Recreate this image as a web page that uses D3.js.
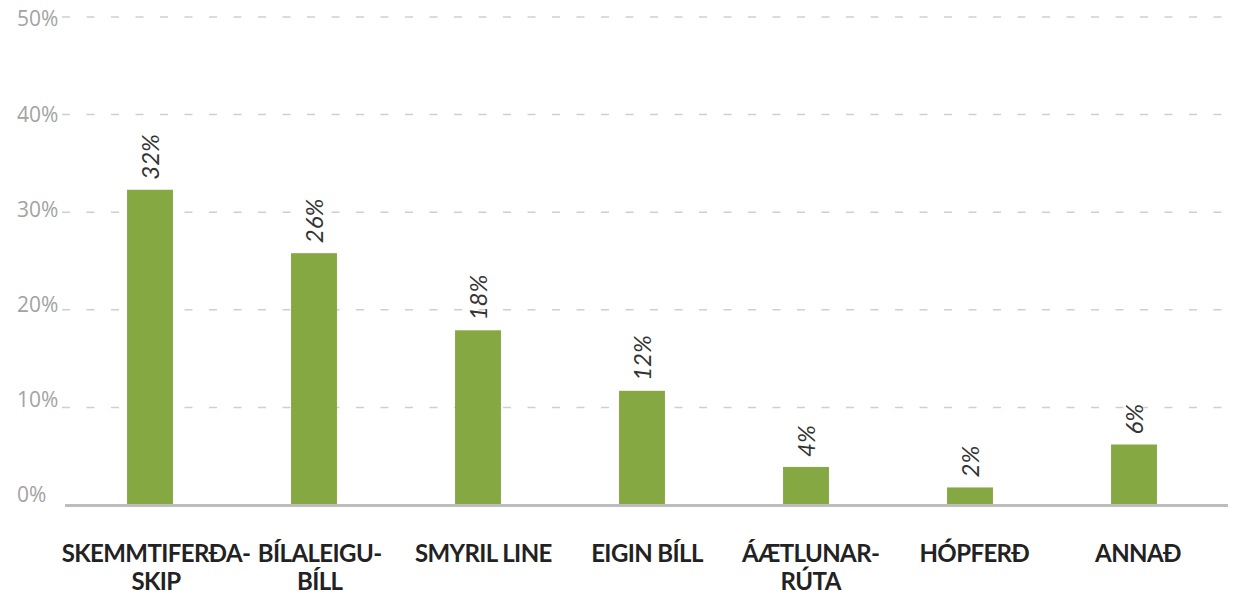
<!DOCTYPE html>
<html>
<head>
<meta charset="utf-8">
<script src="https://cdn.jsdelivr.net/npm/d3@7"></script>
<style>
  body { margin: 0; background: #fff; }
  svg { display: block; }
</style>
</head>
<body>
<svg id="chart" width="1233" height="595"></svg>
<script>
// data
var categories = ["SKEMMTIFERÐA-|SKIP", "BÍLALEIGU-|BÍLL", "SMYRIL LINE", "EIGIN BÍLL", "ÁÆTLUNAR-|RÚTA", "HÓPFERÐ", "ANNAÐ"];
var values = [32.3, 25.8, 17.9, 11.7, 3.9, 1.8, 6.2];
var valueLabels = ["32%", "26%", "18%", "12%", "4%", "2%", "6%"];
var yTicks = [0, 10, 20, 30, 40, 50];

var svg = d3.select("#chart"),
  width = +svg.attr("width"),
  height = +svg.attr("height");

var data = categories.map(function (c, i) {
  return { cat: c, value: values[i], label: valueLabels[i] };
});

var x = d3.scaleBand()
  .domain(categories)
  .range([68, 1216])
  .paddingInner(0.72)
  .paddingOuter(0.36);

// category labels are spread a bit wider than the bars
var xLab = d3.scalePoint()
  .domain(categories)
  .range([156, 1138]);

var y = d3.scaleLinear().domain([0, 50]).range([505, 17]);
// tick labels sit on a slightly tighter scale than the gridlines
var yLab = d3.scaleLinear().domain([0, 50]).range([495, 19]);

// gridlines
svg.append("g")
  .attr("class", "grid")
  .selectAll("line")
  .data(yTicks.filter(function (d) { return d > 0; }))
  .enter().append("line")
  .attr("x1", 62)
  .attr("x2", 1228)
  .attr("y1", function (d) { return y(d); })
  .attr("y2", function (d) { return y(d); })
  .attr("stroke", "#cfcfcf")
  .attr("stroke-width", 1.5)
  .attr("stroke-dasharray", "8,16.5");

// y labels
svg.append("g")
  .selectAll("text")
  .data(yTicks)
  .enter().append("text")
  .attr("x", 17)
  .attr("y", function (d) { return yLab(d); })
  .attr("dy", "0.35em")
  .attr("font-family", "'Open Sans', sans-serif")
  .attr("font-size", 21)
  .attr("fill", "#a3a3a3")
  .text(function (d) { return d + "%"; });

// bars
svg.append("g")
  .selectAll("rect")
  .data(data)
  .enter().append("rect")
  .attr("x", function (d) { return x(d.cat); })
  .attr("width", x.bandwidth())
  .attr("y", function (d) { return y(d.value); })
  .attr("height", function (d) { return y(0) - y(d.value); })
  .attr("fill", "#85a843");

// baseline
svg.append("line")
  .attr("x1", 65)
  .attr("x2", 1228)
  .attr("y1", y(0) + 0.5)
  .attr("y2", y(0) + 0.5)
  .attr("stroke", "#bdbdbd")
  .attr("stroke-width", 3);

// value labels, rotated
svg.append("g")
  .selectAll("text")
  .data(data)
  .enter().append("text")
  .attr("transform", function (d) {
    var cx = x(d.cat) + x.bandwidth() / 2 + 9;
    return "translate(" + cx + "," + (y(d.value) - 10) + ") rotate(-90)";
  })
  .attr("font-family", "Lato, sans-serif")
  .attr("font-style", "italic")
  .attr("font-size", 24)
  .attr("fill", "#333")
  .text(function (d) { return d.label; });

// category labels
var cat = svg.append("g")
  .selectAll("text")
  .data(data)
  .enter().append("text")
  .attr("text-anchor", "middle")
  .attr("font-family", "Lato, sans-serif")
  .attr("font-weight", "bold")
  .attr("font-size", 24)
  .attr("letter-spacing", -0.6)
  .attr("fill", "#222");

cat.each(function (d) {
  var lines = d.cat.split("|");
  var cx = xLab(d.cat);
  d3.select(this).selectAll("tspan")
    .data(lines)
    .enter().append("tspan")
    .attr("x", cx)
    .attr("y", function (l, i) { return 562 + i * 28; })
    .text(function (l) { return l; });
});
</script>
</body>
</html>
